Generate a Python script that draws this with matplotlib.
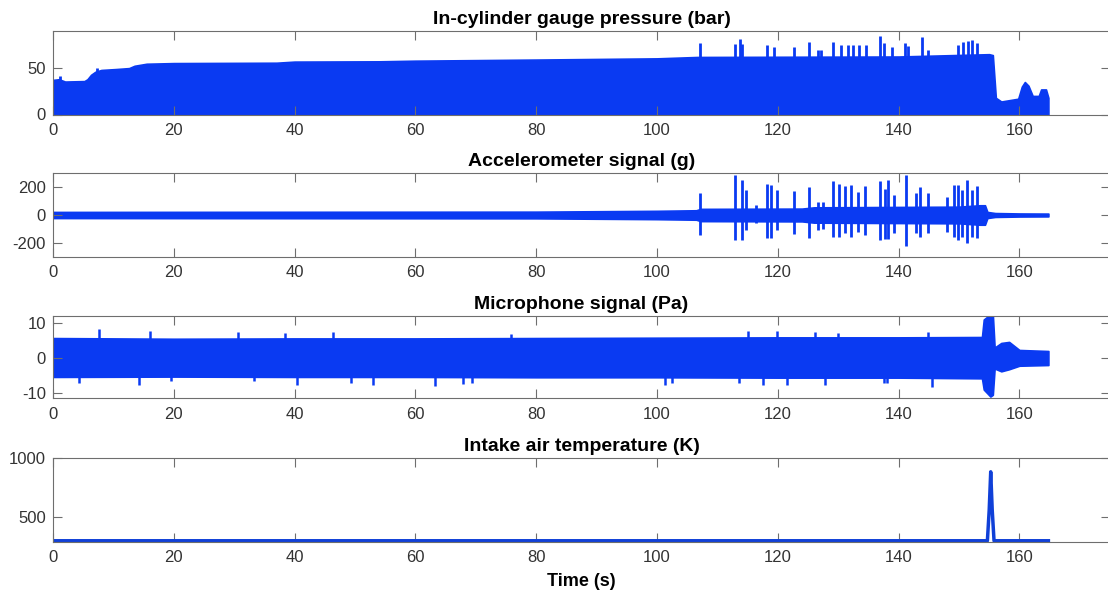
import matplotlib
matplotlib.use("Agg")
import matplotlib.pyplot as plt

plt.rcParams['font.family'] = ['Liberation Sans', 'DejaVu Sans']
plt.rcParams['axes.unicode_minus'] = False

BLUE = '#0a3af2'
TICK_GRAY = '#333333'
SPINE_GRAY = '#6e6e6e'

# ---------------- In-cylinder gauge pressure (bar) ----------------
pressure_floor = -0.8
pressure_env_t = [0, 1.0, 2.0, 5.2, 5.7, 6.3, 7.0, 8.0, 10.5, 12.6, 13.5, 15.5, 20, 37, 40, 54,
                  60, 80, 100, 106.7, 140, 155.0, 155.6, 156.1, 157, 159.8, 160.4,
                  160.9, 161.5, 162.2, 163.2, 163.6, 164.4, 164.8]
pressure_env_top = [37.3, 38, 35.5, 36, 38, 42.8, 46, 48, 49, 50, 52.5, 54.7, 55.4, 55.8, 57, 57.3,
                    58, 59.2, 60.5, 62, 62.5, 65, 64, 18, 14, 17, 30,
                    35, 31, 20, 20, 27, 27, 18]
pressure_spike_t = [1.1, 7.3, 107.1, 112.9, 113.7, 114.1, 118.2, 119.3, 122.6, 125.2, 126.6,
                    127.2, 129.1, 130.5, 131.7, 132.4, 133.5, 134.6, 136.9, 137.6, 138.9,
                    141.0, 141.5, 143.8, 144.9, 149.9, 150.6, 151.5, 152.2, 152.9]
pressure_spike_top = [41, 50, 77, 76, 81, 76, 75, 73, 73, 78, 70,
                      70, 78, 75, 75, 75, 75, 75, 85, 77, 73,
                      77, 74, 84, 70, 75, 78, 79, 80, 77]

# ---------------- Accelerometer signal (g) ----------------
acc_env_t = [0, 80, 100, 106.5, 107.2, 124, 126, 150, 153.5, 154.3, 154.7, 156, 160, 164.8]
acc_env_hi = [22, 24, 30, 34, 44, 46, 55, 60, 70, 70, 22, 14, 11, 10]
acc_env_lo = [-22, -24, -30, -34, -44, -46, -55, -60, -70, -70, -22, -14, -11, -10]
acc_spike_t = [107.2, 112.9, 114.1, 114.8, 116.4, 118.2, 118.8, 119.8, 122.6, 125.1, 126.7,
               127.5, 129.2, 130.1, 131.2, 132.1, 133.2, 134.5, 136.9, 137.8, 138.2,
               139.2, 141.2, 142.9, 143.6, 144.9, 148.0, 149.2, 149.9, 150.5, 151.3,
               152.2, 153.0]
acc_spike_hi = [155, 285, 250, 179, 70, 226, 214, 179, 174, 202, 95,
                95, 243, 226, 210, 219, 167, 210, 245, 190, 250,
                143, 290, 155, 202, 155, 131, 214, 214, 179, 250,
                179, 210]
acc_spike_lo = [-143, -179, -180, -107, -60, -167, -167, -107, -136, -167, -107,
                -100, -155, -155, -131, -155, -119, -143, -179, -174, -174,
                -131, -221, -131, -155, -131, -119, -155, -179, -155, -202,
                -155, -167]

# ---------------- Microphone signal (Pa) ----------------
mic_env_t = [0, 20, 40, 60, 80, 100, 120, 140, 153.8, 154.1, 155.2, 155.6, 155.9,
             157.0, 158.3, 160, 164.8]
mic_env_hi = [5.7, 5.5, 5.6, 5.6, 5.7, 5.8, 5.9, 5.9, 6.0, 11, 12.5, 12.5, 3.0,
              4.3, 4.6, 2.3, 2.0]
mic_env_lo = [-5.4, -5.3, -5.4, -5.4, -5.5, -5.5, -5.6, -5.6, -5.8, -9.0, -11, -10.5, -3.0,
              -3.8, -3.2, -2.2, -2.0]
mic_up_t = [7.6, 16.0, 30.6, 38.4, 46.4, 75.9, 115.0, 119.8, 126.1, 130.0, 144.9]
mic_up_v = [8.3, 7.6, 7.3, 7.1, 7.3, 6.9, 7.7, 7.7, 7.4, 7.2, 7.4]
mic_dn_t = [4.3, 14.3, 19.5, 33.2, 40.4, 49.3, 53.0, 63.3, 67.9, 69.3, 101.3, 102.5,
            113.6, 117.5, 121.5, 127.8, 137.5, 138.1, 145.5]
mic_dn_v = [-7.1, -7.6, -6.7, -6.6, -7.6, -7.1, -7.6, -7.9, -7.3, -7.1, -7.7, -7.2,
            -7.2, -7.7, -7.7, -7.7, -7.2, -7.0, -8.2]

# ---------------- Intake air temperature (K) ----------------
temp_t = [0, 154.7, 155.0, 155.25, 155.5, 155.8, 164.8]
temp_k = [298, 298, 560, 885, 560, 298, 298]

xticks = [0, 20, 40, 60, 80, 100, 120, 140, 160]

fig = plt.figure(figsize=(11.08, 5.95), dpi=100)
W, H = 1108.0, 595.0


def make_axes(top_px, bottom_px):
    left, right = 53.0, 1110.0
    return fig.add_axes([left / W, 1 - bottom_px / H, (right - left) / W, (bottom_px - top_px) / H])


def style(ax, title, ylim, yticks):
    ax.set_xlim(0, 175)
    ax.set_ylim(*ylim)
    ax.set_xticks(xticks)
    ax.set_yticks(yticks)
    ax.tick_params(direction='in', length=6.5, width=0.8, colors=SPINE_GRAY,
                   labelcolor=TICK_GRAY, labelsize=12, top=True, right=True)
    ax.tick_params(axis='x', pad=6)
    ax.tick_params(axis='y', pad=5)
    for s in ax.spines.values():
        s.set_color(SPINE_GRAY)
        s.set_linewidth(0.8)
    ax.set_title(title, fontsize=14, fontweight='bold', pad=5)


# Pressure
ax1 = make_axes(31, 114.5)
ax1.fill_between(pressure_env_t, pressure_floor, pressure_env_top, color=BLUE, lw=1.2, ec=BLUE)
ax1.vlines(pressure_spike_t, pressure_floor, pressure_spike_top, color=BLUE, lw=2)
style(ax1, 'In-cylinder gauge pressure (bar)', (0, 90), [0, 50])

# Accelerometer
ax2 = make_axes(173.3, 256.7)
ax2.fill_between(acc_env_t, acc_env_lo, acc_env_hi, color=BLUE, lw=1.2, ec=BLUE)
ax2.vlines(acc_spike_t, acc_spike_lo, acc_spike_hi, color=BLUE, lw=2)
style(ax2, 'Accelerometer signal (g)', (-300, 300), [-200, 0, 200])

# Microphone
ax3 = make_axes(316, 398.3)
ax3.fill_between(mic_env_t, mic_env_lo, mic_env_hi, color=BLUE, lw=1.2, ec=BLUE)
ax3.vlines(mic_up_t, 0, mic_up_v, color=BLUE, lw=1.8)
ax3.vlines(mic_dn_t, mic_dn_v, 0, color=BLUE, lw=1.8)
style(ax3, 'Microphone signal (Pa)', (-11.5, 12), [-10, 0, 10])

# Temperature
ax4 = make_axes(458.3, 541.7)
ax4.plot(temp_t, temp_k, color='#1040d8', lw=2.5)
style(ax4, 'Intake air temperature (K)', (290, 1000), [500, 1000])
ax4.set_xlabel('Time (s)', fontsize=13, fontweight='bold', labelpad=6)

fig.savefig('out.png', dpi=100)
